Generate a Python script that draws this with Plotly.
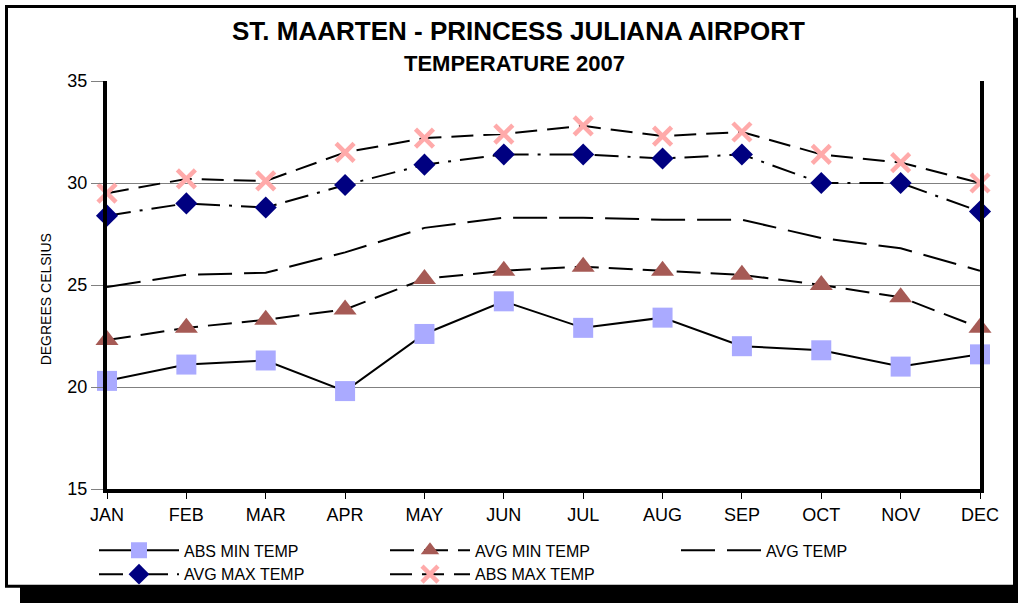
import plotly.graph_objects as go

months = ["JAN", "FEB", "MAR", "APR", "MAY", "JUN", "JUL", "AUG", "SEP", "OCT", "NOV", "DEC"]
abs_min = [20.3, 21.1, 21.3, 19.8, 22.6, 24.2, 22.9, 23.4, 22.0, 21.8, 21.0, 21.6]
avg_min = [22.3, 22.9, 23.3, 23.8, 25.3, 25.7, 25.9, 25.7, 25.5, 25.0, 24.4, 22.9]
avg_temp = [24.9, 25.5, 25.6, 26.6, 27.8, 28.3, 28.3, 28.2, 28.2, 27.3, 26.8, 25.7]
avg_max = [28.4, 29.0, 28.8, 29.9, 30.9, 31.4, 31.4, 31.2, 31.4, 30.0, 30.0, 28.6]
abs_max = [29.5, 30.2, 30.1, 31.5, 32.2, 32.4, 32.8, 32.3, 32.5, 31.4, 31.0, 30.0]

W, H = 1018, 603
L, R, T, B = 107, 980, 81, 494
PW, PH = R - L, B - T


def px(x):
    return (x - L) / PW


def py(y):
    return (B - y) / PH


FONT = "Arial, Liberation Sans, sans-serif"

fig = go.Figure()
fig.add_trace(go.Scatter(
    x=months, y=abs_min, name="ABS MIN TEMP", mode="lines+markers",
    line=dict(color="black", width=2),
    marker=dict(symbol="square", size=20, color="#AAAAFF"),
    cliponaxis=False))
fig.add_trace(go.Scatter(
    x=months, y=avg_min, name="AVG MIN TEMP", mode="lines+markers",
    line=dict(color="black", width=2, dash="24px,10px"),
    marker=dict(symbol="triangle-up", size=20, color="#A65A55"),
    cliponaxis=False))
fig.add_trace(go.Scatter(
    x=months, y=avg_temp, name="AVG TEMP", mode="lines",
    line=dict(color="black", width=2, dash="34px,12px"),
    cliponaxis=False))
fig.add_trace(go.Scatter(
    x=months, y=avg_max, name="AVG MAX TEMP", mode="lines+markers",
    line=dict(color="black", width=2, dash="24px,9px,3px,9px"),
    marker=dict(symbol="diamond", size=17, color="#000080"),
    cliponaxis=False))
fig.add_trace(go.Scatter(
    x=months, y=abs_max, name="ABS MAX TEMP", mode="lines+markers",
    line=dict(color="black", width=2, dash="22px,10px"),
    marker=dict(symbol="x-thin", size=18, color="#FFAAAA",
                line=dict(color="#FFAAAA", width=4.5)),
    cliponaxis=False))

shapes = [
    # shadow
    dict(type="rect", xref="paper", yref="paper", layer="below",
         x0=px(20), x1=px(1040), y0=py(17), y1=py(620),
         fillcolor="black", line=dict(width=0)),
    # frame
    dict(type="rect", xref="paper", yref="paper", layer="below",
         x0=px(6.5), x1=px(1014.5), y0=py(5.5), y1=py(592.5),
         fillcolor="white", line=dict(color="black", width=3)),
]

annotations = [
    dict(text="<b>ST. MAARTEN - PRINCESS JULIANA AIRPORT</b>", x=px(518), y=py(30),
         xref="paper", yref="paper", showarrow=False, xanchor="center", yanchor="middle",
         font=dict(family=FONT, size=26, color="black")),
    dict(text="<b>TEMPERATURE 2007</b>", x=px(514), y=py(63),
         xref="paper", yref="paper", showarrow=False, xanchor="center", yanchor="middle",
         font=dict(family=FONT, size=22, color="black")),
    dict(text="DEGREES CELSIUS", x=px(46), y=py(302), textangle=-90,
         xref="paper", yref="paper", showarrow=False, xanchor="center", yanchor="middle",
         font=dict(family=FONT, size=14, color="black")),
]

fig.update_layout(
    width=W, height=H,
    margin=dict(l=L, r=W - R, t=T, b=H - B, pad=0),
    paper_bgcolor="white", plot_bgcolor="rgba(0,0,0,0)",
    font=dict(family=FONT, size=16, color="black"),
    shapes=shapes, annotations=annotations,
    showlegend=True,
    legend=dict(orientation="h", x=px(94), y=py(539), xanchor="left", yanchor="top",
                entrywidth=196, entrywidthmode="pixels", itemwidth=80,
                font=dict(family=FONT, size=16, color="black"),
                bgcolor="rgba(0,0,0,0)", tracegroupgap=0, itemsizing="trace",
                borderwidth=0),
)
fig.update_xaxes(
    type="category", categoryorder="array", categoryarray=months,
    range=[0, 11], showgrid=False, zeroline=False,
    showline=True, linecolor="black", linewidth=4,
    ticks="outside", ticklen=6, tickcolor="black", tickwidth=1,
    tickfont=dict(family=FONT, size=18, color="black"),
)
fig.update_yaxes(
    range=[15, 35], dtick=5, tick0=15,
    showgrid=True, gridcolor="#808080", gridwidth=1, zeroline=False,
    showline=True, linecolor="black", linewidth=4, mirror=True,
    ticks="outside", ticklen=12, tickcolor="#808080", tickwidth=1,
    tickfont=dict(family=FONT, size=18, color="black"),
)

fig.write_html("out.html", config={"displayModeBar": False},
               post_script="document.body.style.margin='0px';document.body.style.overflow='hidden';")
